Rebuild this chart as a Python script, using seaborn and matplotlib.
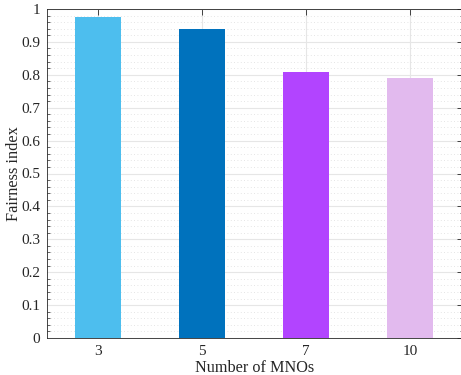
import matplotlib
matplotlib.use("Agg")
import matplotlib.pyplot as plt
import seaborn as sns
import pandas as pd
import numpy as np
from matplotlib.ticker import MultipleLocator

# Fairness index for each number of mobile network operators
mno_counts = ["3", "5", "7", "10"]
fairness = [0.976, 0.939, 0.809, 0.790]
bar_colors = ["#4DBEEE", "#0072BD", "#B244FF", "#E2BAEE"]

sns.set_theme(style="white")
plt.rcParams["font.family"] = ["Liberation Serif", "DejaVu Serif"]
plt.rcParams["mathtext.fontset"] = "stix"

df = pd.DataFrame({"MNOs": mno_counts, "Fairness": fairness})

fig = plt.figure(figsize=(4.61, 3.75), dpi=100)
ax = fig.add_axes([47 / 461, 37 / 375, 416 / 461, 329 / 375])

ax.set_axisbelow(True)
sns.barplot(data=df, x="MNOs", y="Fairness", hue="MNOs",
            palette=bar_colors, order=mno_counts, hue_order=mno_counts,
            width=0.45, saturation=1, legend=False, ax=ax, linewidth=0)

ax.set_xlim(-0.49, 3.51)
ax.set_ylim(0, 1)
ax.yaxis.set_major_locator(MultipleLocator(0.1))
ax.yaxis.set_minor_locator(MultipleLocator(0.02))
ax.set_yticks(np.round(np.arange(0, 1.01, 0.1), 1))
ax.set_yticklabels(["0", "0.1", "0.2", "0.3", "0.4", "0.5", "0.6",
                    "0.7", "0.8", "0.9", "1"])

ax.grid(True, which="major", axis="both", color="#e6e6e6", linewidth=0.8,
        linestyle="-")
ax.grid(True, which="minor", axis="y", color="#dcdcdc", linewidth=0.6,
        linestyle=(0, (1, 3)))

for side in ["left", "bottom", "top", "right"]:
    ax.spines[side].set_visible(True)
    ax.spines[side].set_color("#262626")
    ax.spines[side].set_linewidth(0.6)

ax.tick_params(axis="both", which="both", direction="in", top=True,
               right=True, color="#262626", labelsize=11,
               labelcolor="#262626")
ax.tick_params(axis="both", which="major", length=4, width=0.6, pad=5)
ax.tick_params(axis="y", which="minor", length=2.2, width=0.5, left=True,
               right=True)
ax.tick_params(axis="x", which="minor", bottom=False, top=False)

ax.set_xlabel("Number of MNOs", fontsize=11.7, color="#262626")
ax.set_ylabel("Fairness index", fontsize=11.7, color="#262626")
ax.xaxis.set_label_coords(0.5, -0.068)
ax.yaxis.set_label_coords(-0.06, 0.5)

fig.savefig("out.png", dpi=100)
